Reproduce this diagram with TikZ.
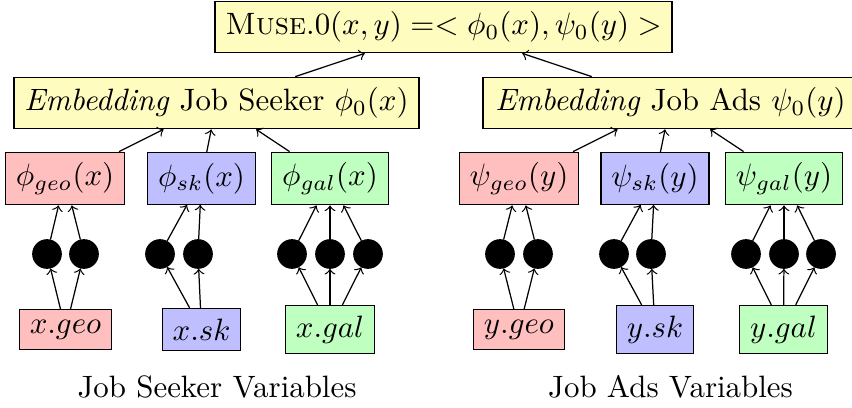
\documentclass[tikz,border=0pt]{standalone}
\begin{document}
\begin{tikzpicture}
  [x=0.3236pt,y=-0.3236pt,auto=left,every node/.style={rectangle,draw,inner sep=3.33pt}]
  \tikzstyle{geo} = [fill=red!25]
  \tikzstyle{sk} = [fill=blue!25]
  \tikzstyle{gal} = [fill=green!25]
  \tikzstyle{emb} = [fill=yellow!25]
  \tikzstyle{unit} = [circle,fill=black,minimum size=9.2pt,inner sep=0pt]
  \tikzstyle{caption} = [draw=none]
  \useasboundingbox (0,0) rectangle (852,407);
  \node[emb] (muse) at (443.5,27) {\textsc{Muse}.0$(x,y) =< \phi_0(x), \psi_0(y) >$};
  \node[emb] (embx) at (216.5,103) {\textit{Embedding} Job Seeker $\phi_0(x)$};
  \node[emb,minimum width=121.3pt] (emby) at (670.5,103) {\textit{Embedding} Job Ads $\psi_0(y)$};
  \node[geo] (pxgeo) at (65,178.5) {$\phi_{geo}(x)$};
  \node[sk] (pxsk) at (201.5,178.5) {$\phi_{sk}(x)$};
  \node[gal] (pxgal) at (330,178.5) {$\phi_{gal}(x)$};
  \node[geo] (pygeo) at (519,178.5) {$\psi_{geo}(y)$};
  \node[sk] (pysk) at (655,178.5) {$\psi_{sk}(y)$};
  \node[gal] (pygal) at (784,178.5) {$\psi_{gal}(y)$};
  \foreach \name/\x in {a1/47,a2/84,b1/160,b2/198,c1/292,c2/330,c3/368,d1/500,d2/538,e1/614,e2/651,f1/746,f2/784,f3/821}
    \node[unit] (\name) at (\x,254) {};
  \node[geo] (vxgeo) at (65.5,329.5) {$x.geo$};
  \node[sk] (vxsk) at (201.5,329.5) {$x.sk$};
  \node[gal] (vxgal) at (330,329.5) {$x.gal$};
  \node[geo] (vygeo) at (519,329.5) {$y.geo$};
  \node[sk] (vysk) at (655,329.5) {$y.sk$};
  \node[gal] (vygal) at (783.5,329.5) {$y.gal$};
  \node[caption] (capx) at (217,387) {Job Seeker Variables};
  \node[caption] (capy) at (670.5,387) {Job Ads Variables};
  \foreach \source/\dest in {embx/muse,emby/muse,pxgeo/embx,pxsk/embx,pxgal/embx,pygeo/emby,pysk/emby,pygal/emby,
    a1/pxgeo,a2/pxgeo,b1/pxsk,b2/pxsk,c1/pxgal,c2/pxgal,c3/pxgal,d1/pygeo,d2/pygeo,e1/pysk,e2/pysk,f1/pygal,f2/pygal,f3/pygal,
    vxgeo/a1,vxgeo/a2,vxsk/b1,vxsk/b2,vxgal/c1,vxgal/c2,vxgal/c3,vygeo/d1,vygeo/d2,vysk/e1,vysk/e2,vygal/f1,vygal/f2,vygal/f3}
    \draw[->] (\source) -- (\dest);
\end{tikzpicture}
\end{document}
